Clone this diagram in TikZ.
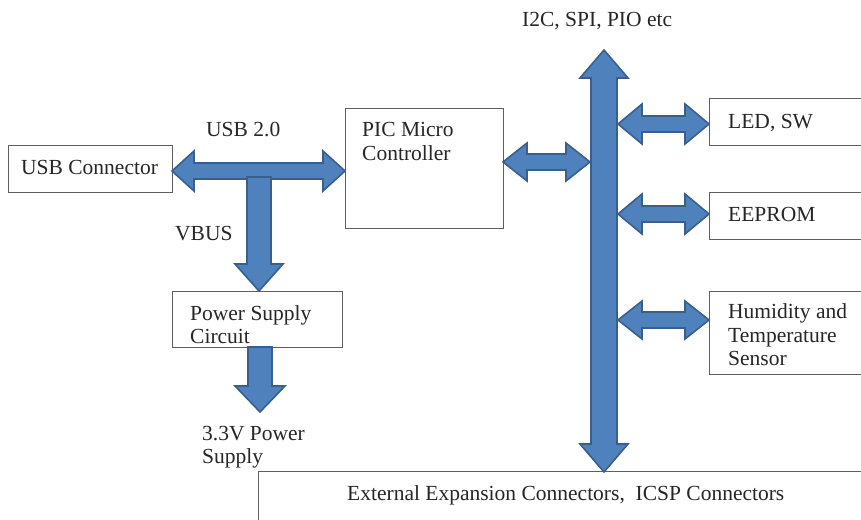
\documentclass[tikz,border=0pt]{standalone}
\usepackage{fontspec}
\setmainfont{Liberation Serif}
\definecolor{arrfill}{RGB}{79,129,189}
\definecolor{arrline}{RGB}{58,95,140}
\definecolor{boxline}{RGB}{95,95,95}
\tikzset{
  box/.style={draw=boxline, line width=1pt, rectangle, inner sep=0pt, anchor=north west},
  txt/.style={inner sep=0pt, anchor=base west, font=\fontsize{21.5}{23.5}\selectfont, text=black!85},
  blockarrow/.style={fill=arrfill, draw=arrline, line width=1.6pt, line join=miter},
}
% horizontal double arrow: x1, x2, y, shaft half, head half, head length
\newcommand{\hdblarrow}[6]{%
  \draw[blockarrow] (#1,#3) -- (#1+#6,#3-#5) -- (#1+#6,#3-#4) -- (#2-#6,#3-#4) -- (#2-#6,#3-#5)
    -- (#2,#3) -- (#2-#6,#3+#5) -- (#2-#6,#3+#4) -- (#1+#6,#3+#4) -- (#1+#6,#3+#5) -- cycle;}
% vertical double arrow: x, y1, y2, shaft half, head half, head length
\newcommand{\vdblarrow}[6]{%
  \draw[blockarrow] (#1,#2) -- (#1+#5,#2+#6) -- (#1+#4,#2+#6) -- (#1+#4,#3-#6) -- (#1+#5,#3-#6)
    -- (#1,#3) -- (#1-#5,#3-#6) -- (#1-#4,#3-#6) -- (#1-#4,#2+#6) -- (#1-#5,#2+#6) -- cycle;}
% downward single arrow: x, y1, y2 (tip), shaft half, head half, head length
\newcommand{\downarrowblk}[6]{%
  \draw[blockarrow] (#1-#4,#2) -- (#1+#4,#2) -- (#1+#4,#3-#6) -- (#1+#5,#3-#6) -- (#1,#3)
    -- (#1-#5,#3-#6) -- (#1-#4,#3-#6) -- cycle;}
\begin{document}
\begin{tikzpicture}[x=1pt,y=-1pt]
\path[use as bounding box, fill=white] (0,0) rectangle (861,519);
\clip (0,0) rectangle (861,519);

% boxes
\node[box, minimum width=164pt, minimum height=47pt] (usb) at (8,145) {};
\node[box, minimum width=158pt, minimum height=120pt] (pic) at (345,108) {};
\node[box, minimum width=170pt, minimum height=56pt] (psu) at (172,291) {};
\node[box, minimum width=170pt, minimum height=47pt] (led) at (709,98) {};
\node[box, minimum width=170pt, minimum height=47pt] (eeprom) at (709,192) {};
\node[box, minimum width=170pt, minimum height=83pt] (sensor) at (709,291) {};
\node[box, minimum width=620pt, minimum height=70pt] (ext) at (258,471) {};

% arrows
\hdblarrow{172}{345}{171}{8}{20}{22}
\downarrowblk{259}{177}{291}{12}{24}{27}
\downarrowblk{260}{347}{412}{12}{25}{26}
\hdblarrow{503}{590}{162}{8}{19}{24}
\vdblarrow{604}{50}{472}{13}{24}{28}
\hdblarrow{618}{709}{124}{8}{20}{24}
\hdblarrow{618}{709}{214}{8}{20}{24}
\hdblarrow{618}{709}{320}{8}{19}{24}

% texts
\node[txt] (tusb) at (21,174) {USB Connector};
\node[txt] (tusb2) at (206,136) {USB 2.0};
\node[txt] (tvbus) at (175,240) {VBUS};
\node[txt] (tpic1) at (362,136) {PIC Micro};
\node[txt] (tpic2) at (362,160) {Controller};
\node[txt] (tpsu1) at (190,320) {Power Supply};
\node[txt] (tpsu2) at (190,343) {Circuit};
\node[txt] (t33a) at (202,440) {3.3V Power};
\node[txt] (t33b) at (202,463) {Supply};
\node[txt] (tbus) at (522,27) {I2C, SPI, PIO etc};
\node[txt] (tled) at (728,128) {LED, SW};
\node[txt] (teep) at (728,221) {EEPROM};
\node[txt] (tsen1) at (728,318) {Humidity and};
\node[txt] (tsen2) at (728,342) {Temperature};
\node[txt] (tsen3) at (728,365) {Sensor};
\node[txt] (text) at (347,500) {External Expansion Connectors,\ \ ICSP Connectors};
\end{tikzpicture}
\end{document}
